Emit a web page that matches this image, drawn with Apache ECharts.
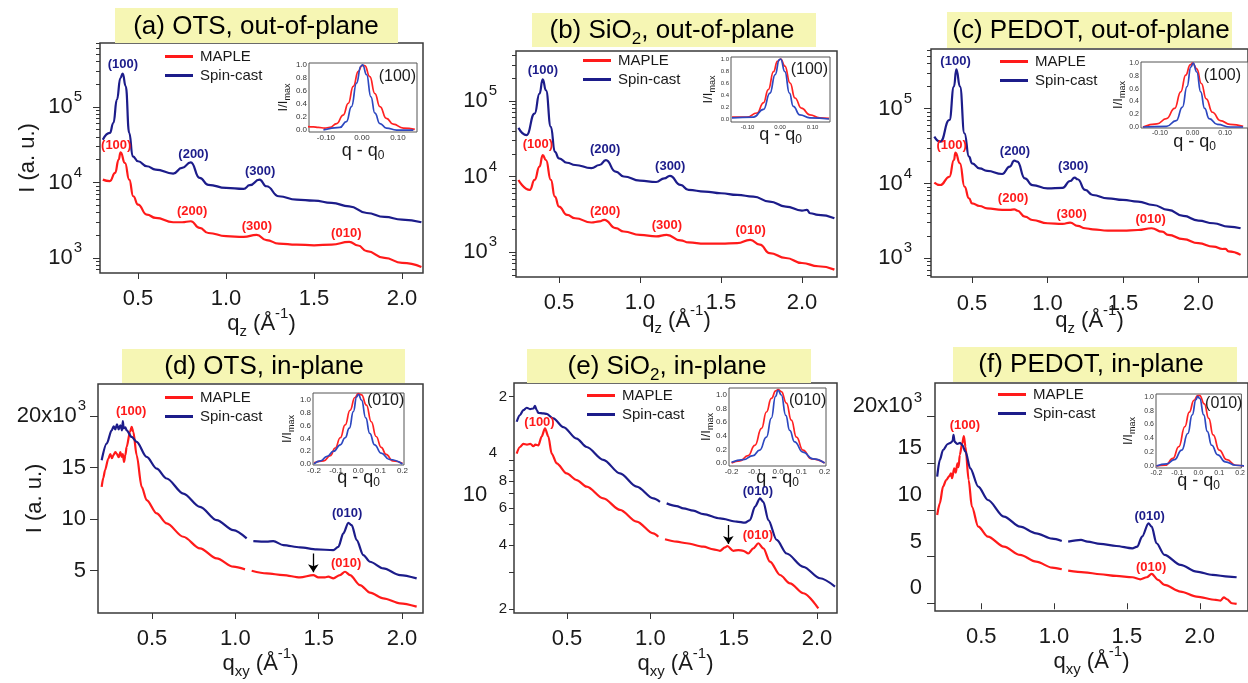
<!DOCTYPE html>
<html><head><meta charset="utf-8">
<script src="https://cdn.jsdelivr.net/npm/echarts@6/dist/echarts.min.js"></script>
<style>html,body{margin:0;padding:0;background:#fff}#c{width:1248px;height:683px}</style>
</head><body><div id="c"></div>
<script>
// ---------------- data (q in 1/Å, intensity in a.u.) ----------------
const aMaple = [[0.30,10900],[0.34,10400],[0.37,13400],[0.39,20100],[0.401,25100],[0.426,18100],[0.45,10900],[0.473,6560],[0.50,5090],[0.55,3750],[0.60,3390],[0.70,2970],[0.75,2970],[0.80,3060],[0.85,2500],[0.90,2140],[1.00,1940],[1.10,1900],[1.174,2020],[1.23,1720],[1.30,1550],[1.40,1500],[1.50,1470],[1.60,1500],[1.70,1630],[1.75,1460],[1.80,1230],[1.90,1000],[2.00,860],[2.11,760]];
const aSpin = [[0.30,36900],[0.34,45300],[0.36,61400],[0.38,125000],[0.40,242000],[0.413,277000],[0.43,188000],[0.45,45300],[0.47,22200],[0.50,19100],[0.55,16400],[0.60,14800],[0.70,13100],[0.75,15600],[0.80,18500],[0.85,11500],[0.90,9310],[1.00,8450],[1.10,8200],[1.135,9200],[1.19,10900],[1.23,8900],[1.30,6560],[1.40,5930],[1.50,5750],[1.60,5350],[1.70,4830],[1.80,3940],[1.90,3490],[2.00,3220],[2.11,2970]];
const bMaple = [[0.25,9000],[0.32,6640],[0.35,9000],[0.38,13500],[0.40,19200],[0.42,16500],[0.45,9000],[0.475,5420],[0.50,4000],[0.55,3100],[0.60,2800],[0.70,2460],[0.75,2540],[0.78,2670],[0.85,2070],[0.90,1870],[1.00,1690],[1.10,1610],[1.165,1690],[1.25,1430],[1.30,1340],[1.40,1290],[1.50,1290],[1.60,1310],[1.68,1450],[1.74,1250],[1.80,970],[1.90,834],[2.00,716],[2.10,648],[2.20,585]];
const bSpin = [[0.25,44000],[0.30,35300],[0.35,68100],[0.38,125000],[0.40,193000],[0.42,138000],[0.45,45400],[0.475,21200],[0.50,17400],[0.55,15200],[0.60,14200],[0.70,12900],[0.75,14200],[0.79,16500],[0.85,11600],[0.90,10000],[1.00,8820],[1.10,8460],[1.15,9460],[1.185,10200],[1.25,7730],[1.30,6640],[1.40,6310],[1.50,6000],[1.60,5700],[1.70,5420],[1.80,4660],[1.90,4000],[2.00,3540],[2.03,3610],[2.05,3260],[2.10,3100],[2.20,2800]];
const cMaple = [[0.25,10300],[0.29,9550],[0.35,12300],[0.38,20600],[0.39,25800],[0.42,18600],[0.45,9080],[0.48,6330],[0.50,5430],[0.55,5000],[0.60,4650],[0.70,4430],[0.75,4430],[0.78,4520],[0.80,4340],[0.85,3610],[0.90,3250],[1.00,2940],[1.10,2880],[1.15,3000],[1.20,2710],[1.25,2520],[1.30,2440],[1.40,2340],[1.50,2340],[1.60,2390],[1.69,2520],[1.76,2270],[1.80,2050],[1.90,1800],[2.00,1590],[2.10,1430],[2.16,1330],[2.18,1335],[2.20,1240],[2.28,1110]];
const cSpin = [[0.25,42300],[0.29,36200],[0.35,70600],[0.38,197000],[0.396,336000],[0.42,197000],[0.45,46800],[0.48,22800],[0.50,18600],[0.55,15900],[0.60,14700],[0.70,13400],[0.75,16800],[0.78,20200],[0.80,19600],[0.85,11700],[0.90,9500],[1.00,8580],[1.10,8760],[1.15,10800],[1.18,12000],[1.20,11400],[1.25,8190],[1.30,7020],[1.40,6330],[1.50,6020],[1.60,5720],[1.70,5160],[1.80,4430],[1.90,3680],[2.00,3190],[2.10,2940],[2.20,2650],[2.28,2520]];
const dMaple = [[0.198,13130],[0.208,14000],[0.218,14740],[0.238,15870],[0.25,16300],[0.26,15900],[0.268,16190],[0.28,16500],[0.288,16350],[0.30,16000],[0.31,16500],[0.318,16030],[0.325,16300],[0.332,15550],[0.34,16200],[0.348,17000],[0.368,18450],[0.378,18940],[0.388,18450],[0.408,16190],[0.438,13130],[0.468,11840],[0.528,10550],[0.588,9580],[0.688,8290],[0.788,7160],[0.888,6190],[0.988,5390],[1.058,5130],[1.078,null],[1.098,5000],[1.188,4740],[1.288,4580],[1.388,4350],[1.468,4580],[1.498,4350],[1.538,4350],[1.558,4420],[1.588,4260],[1.628,4580],[1.658,4900],[1.688,4580],[1.748,3610],[1.808,2870],[1.888,2320],[1.988,1840],[2.088,1520]];
const dSpin = [[0.198,15710],[0.228,17320],[0.258,18610],[0.27,19000],[0.28,18700],[0.29,19200],[0.30,18700],[0.31,19100],[0.32,18600],[0.325,19500],[0.33,18800],[0.34,18900],[0.348,18610],[0.378,17970],[0.408,17480],[0.468,16030],[0.528,14900],[0.588,13940],[0.688,12480],[0.788,11190],[0.888,9900],[0.988,8940],[1.068,8130],[1.088,null],[1.108,7870],[1.188,7810],[1.228,7870],[1.288,7480],[1.388,7260],[1.488,7060],[1.588,7000],[1.618,7320],[1.648,8610],[1.678,9650],[1.698,9420],[1.728,7970],[1.768,6520],[1.808,5870],[1.888,5230],[1.988,4580],[2.088,4260]];
const eMaple = [[0.198,10800],[0.218,11600],[0.238,12000],[0.26,11900],[0.28,12000],[0.298,11700],[0.31,11900],[0.328,11800],[0.348,13000],[0.368,14200],[0.388,13000],[0.408,10800],[0.438,9720],[0.498,8710],[0.558,8110],[0.618,7550],[0.718,6650],[0.818,5870],[0.918,5170],[1.018,4550],[1.048,4390],[1.068,null],[1.088,4270],[1.158,4160],[1.218,4090],[1.318,3940],[1.378,3830],[1.418,3770],[1.448,3910],[1.462,3970],[1.498,3770],[1.528,3800],[1.558,3770],[1.588,3660],[1.618,3870],[1.648,4090],[1.678,3870],[1.718,3350],[1.778,2900],[1.838,2650],[1.918,2380],[2.008,2020]];
const eSpin = [[0.198,15250],[0.218,16400],[0.238,17300],[0.258,17750],[0.278,17500],[0.298,17600],[0.308,18100],[0.318,17300],[0.328,16800],[0.358,16700],[0.378,16600],[0.418,15800],[0.478,14400],[0.558,12700],[0.618,11600],[0.718,10100],[0.818,8710],[0.918,7550],[1.018,6650],[1.058,6410],[1.078,null],[1.098,6300],[1.158,6120],[1.198,5970],[1.258,5820],[1.318,5610],[1.418,5350],[1.518,5170],[1.568,5110],[1.598,5260],[1.628,6080],[1.658,6650],[1.678,6410],[1.708,5260],[1.758,4240],[1.818,3660],[1.918,3170],[2.018,2800],[2.108,2560]];
const fMaple = [[0.198,9460],[0.216,10710],[0.238,12500],[0.26,13210],[0.28,13600],[0.293,13930],[0.30,13400],[0.315,14460],[0.325,14000],[0.337,15000],[0.345,14600],[0.353,15890],[0.37,17140],[0.381,17930],[0.392,16790],[0.414,13210],[0.436,10360],[0.48,8210],[0.546,7140],[0.656,6070],[0.767,5180],[0.877,4460],[0.987,3820],[1.053,3640],[1.075,null],[1.097,3500],[1.207,3320],[1.317,3110],[1.427,2930],[1.537,2790],[1.592,2570],[1.636,2790],[1.67,3140],[1.714,2500],[1.758,1960],[1.868,1250],[1.978,710],[2.11,360],[2.143,290],[2.165,640],[2.187,430],[2.22,0],[2.253,-70]];
const fSpin = [[0.198,13570],[0.216,15360],[0.238,16430],[0.271,17070],[0.29,17200],[0.304,17390],[0.31,18040],[0.318,17300],[0.337,17070],[0.355,17200],[0.37,16960],[0.392,16250],[0.425,14460],[0.48,12500],[0.546,11070],[0.656,9290],[0.767,8210],[0.877,7500],[0.987,6930],[1.053,6680],[1.075,null],[1.097,6610],[1.185,6790],[1.229,6610],[1.317,6360],[1.427,6140],[1.537,5890],[1.571,6070],[1.604,7140],[1.648,8570],[1.67,8210],[1.703,6430],[1.758,5180],[1.868,4110],[1.978,3390],[2.088,3040],[2.198,2860],[2.253,2790]];

// insets: q - q0 vs I/Imax
const aInMaple = [[-0.158,0.06],[-0.135,0.05],[-0.121,0.04],[-0.103,0.03],[-0.089,0.04],[-0.07,0.10],[-0.052,0.23],[-0.038,0.41],[-0.024,0.67],[-0.01,0.90],[0.0,0.99],[0.008,0.99],[0.022,0.82],[0.036,0.56],[0.05,0.36],[0.068,0.18],[0.087,0.09],[0.115,0.03],[0.147,0.01]];
const aInSpin = [[-0.107,0.0],[-0.061,0.04],[-0.043,0.13],[-0.029,0.36],[-0.015,0.72],[-0.003,0.98],[0.002,1.0],[0.013,0.85],[0.025,0.51],[0.036,0.26],[0.05,0.10],[0.068,0.03],[0.096,0.0],[0.143,0.0]];
const bInMaple = [[-0.148,0.03],[-0.102,0.03],[-0.071,0.10],[-0.051,0.27],[-0.036,0.49],[-0.02,0.79],[-0.008,0.96],[0.002,1.0],[0.015,0.88],[0.031,0.60],[0.046,0.35],[0.066,0.18],[0.092,0.07],[0.122,0.02],[0.151,0.01]];
const bInSpin = [[-0.148,0.02],[-0.082,0.03],[-0.051,0.16],[-0.031,0.43],[-0.015,0.74],[-0.002,0.99],[0.002,1.0],[0.015,0.79],[0.029,0.43],[0.041,0.21],[0.061,0.07],[0.092,0.02],[0.151,0.0]];
const cInMaple = [[-0.152,0.0],[-0.109,0.05],[-0.08,0.13],[-0.055,0.29],[-0.036,0.55],[-0.021,0.81],[-0.007,0.97],[0.0,1.0],[0.013,0.91],[0.027,0.68],[0.042,0.44],[0.061,0.23],[0.085,0.10],[0.115,0.04],[0.155,0.01]];
const cInSpin = [[-0.152,0.0],[-0.08,0.01],[-0.05,0.10],[-0.031,0.31],[-0.017,0.63],[-0.005,0.94],[0.002,1.0],[0.013,0.86],[0.025,0.55],[0.037,0.29],[0.051,0.13],[0.076,0.04],[0.115,0.0],[0.155,0.0]];
const dInMaple = [[-0.2,0.02],[-0.156,0.05],[-0.126,0.13],[-0.104,0.25],[-0.081,0.41],[-0.059,0.61],[-0.037,0.84],[-0.015,1.04],[0.0,1.10],[0.015,1.08],[0.037,0.92],[0.059,0.66],[0.081,0.43],[0.104,0.26],[0.126,0.15],[0.156,0.05],[0.2,0.01]];
const dInSpin = [[-0.2,0.0],[-0.17,0.05],[-0.141,0.12],[-0.111,0.20],[-0.081,0.30],[-0.059,0.41],[-0.04,0.56],[-0.022,0.82],[-0.007,1.05],[0.001,1.09],[0.015,1.0],[0.034,0.72],[0.052,0.48],[0.074,0.30],[0.104,0.17],[0.141,0.07],[0.2,0.0]];
const eInMaple = [[-0.2,0.0],[-0.164,0.03],[-0.129,0.11],[-0.1,0.26],[-0.071,0.51],[-0.05,0.75],[-0.029,0.95],[-0.01,1.06],[0.0,1.08],[0.014,1.05],[0.036,0.88],[0.057,0.63],[0.079,0.38],[0.107,0.19],[0.143,0.06],[0.2,0.0]];
const eInSpin = [[-0.2,0.01],[-0.15,0.05],[-0.107,0.11],[-0.079,0.19],[-0.05,0.38],[-0.029,0.66],[-0.011,0.98],[0.0,1.07],[0.014,1.0],[0.033,0.70],[0.05,0.48],[0.071,0.31],[0.107,0.16],[0.15,0.06],[0.2,0.0]];
const fInMaple = [[-0.2,0.0],[-0.157,0.01],[-0.121,0.11],[-0.093,0.28],[-0.064,0.57],[-0.043,0.78],[-0.021,0.95],[-0.003,1.02],[0.007,1.02],[0.029,0.90],[0.05,0.69],[0.071,0.45],[0.1,0.23],[0.136,0.09],[0.179,0.01],[0.221,0.0]];
const fInSpin = [[-0.2,0.0],[-0.15,0.03],[-0.114,0.09],[-0.079,0.23],[-0.05,0.47],[-0.029,0.74],[-0.011,0.96],[-0.003,1.01],[0.007,0.98],[0.026,0.74],[0.043,0.50],[0.064,0.30],[0.093,0.16],[0.129,0.06],[0.179,0.01],[0.221,0.0]];

// peak annotations [q, I, text, series]
const aPeaks = [[0.417,364000,'(100)','s'],[0.379,30800,'(100)','m'],[0.818,23400,'(200)','s'],[1.197,13600,'(300)','s'],[0.810,4030,'(200)','m'],[1.178,2550,'(300)','m'],[1.686,2080,'(010)','m']];
const bPeaks = [[0.404,253000,'(100)','s'],[0.373,26000,'(100)','m'],[0.788,22300,'(200)','s'],[1.190,13500,'(300)','s'],[0.788,3440,'(200)','m'],[1.169,2220,'(300)','m'],[1.686,1930,'(010)','m']];
const cPeaks = [[0.394,416000,'(100)','s'],[0.368,31700,'(100)','m'],[0.788,26600,'(200)','s'],[1.174,16800,'(300)','s'],[0.775,6140,'(200)','m'],[1.163,3790,'(300)','m'],[1.687,3250,'(010)','m']];
const dPeaks = [[0.378,20390,'(100)','m'],[1.674,10480,'(010)','s'],[1.668,5650,'(010)','m']];
const ePeaks = [[0.338,15000,'(100)','m'],[1.648,7100,'(010)','s'],[1.648,4440,'(010)','m']];
const fPeaks = [[0.392,19040,'(100)','m'],[1.659,9290,'(010)','s'],[1.670,3750,'(010)','m']];
const dArrow = [[1.468,6680],[1.468,4840]];
const eArrow = [[1.468,4990],[1.468,4060]];

// ticks
const xTicks = [0.5, 1.0, 1.5, 2.0];
const logMajor = [1000, 10000, 100000];
const dTicks = [5000, 10000, 15000, 20000];
const fTicks = [0, 5000, 10000, 15000, 20000];
const eTickVals = [2000,3000,4000,5000,6000,7000,8000,9000,10000,20000];
const eLabelVals = [2000,4000,6000,8000,20000];
const insetY = [0, 0.2, 0.4, 0.6, 0.8, 1.0];
const insetX3 = [-0.1, 0, 0.1];
const insetX5 = [-0.2, -0.1, 0, 0.1, 0.2];

// ---------------- build ----------------
const FONT = '"Liberation Sans", Arial, sans-serif';
const RED = '#ff1a1a', BLUE = '#1c1c8a', IRED = '#ff2222', IBLUE = '#2d48c0', INK = '#1a1a1a';
const T = (size, extra) => Object.assign({fontSize:size, lineHeight:size, fontFamily:FONT, color:INK}, extra || {});
const RICH = {
  b: T(22), s: T(15, {padding:[0,0,20,1]}), sub: T(15, {padding:[16,0,0,0]}), sup: T(15, {padding:[0,0,20,0]}),
  bp: T(22, {padding:[0,0,8,0]}), s5: T(15, {padding:[0,0,16,1]}),
  it: T(18), its: T(12, {padding:[10,0,0,0]}), iy: T(13), iys: T(9, {padding:[8,0,0,0]}),
  tt: T(26), tts: T(17, {padding:[16,0,0,0]})
};
const grid = [], xAxis = [], yAxis = [], series = [], legend = [], graphic = [];

function logMinors(lo, hi) {
  const out = [];
  for (let e = 2; e <= 6; e++) for (let m = 2; m <= 9; m++) { const v = m * Math.pow(10, e); if (v > lo && v < hi) out.push(v); }
  return out;
}
function lineS(name, data, xi, yi, color, w, smooth) {
  return {type:'line', name, data, xAxisIndex:xi, yAxisIndex:yi, symbol:'none', smooth, smoothMonotone:'x',
    lineStyle:{color, width:w}, itemStyle:{color}, silent:true, z:3};
}
function labelS(list, xi, yi, size, bold, colorFn) {
  return {type:'scatter', xAxisIndex:xi, yAxisIndex:yi, symbolSize:1, itemStyle:{color:'rgba(0,0,0,0)'}, silent:true, z:6,
    label:{show:true, position:[0,0], align:'center', verticalAlign:'middle', fontSize:size, fontWeight:bold ? 'bold' : 'normal',
      fontFamily:FONT, textBorderWidth:0, opacity:1},
    data:list.map(p => ({value:[p[0], p[1]], label:{formatter:p[2], color:colorFn(p[3])}}))};
}
const tickStyle = {color:'#333', width:1};

function mainPanel(p) {
  const gi = grid.length;
  grid.push({left:p.g[0], top:p.g[1], width:p.g[2], height:p.g[3], show:true, borderColor:'#3a3a3a', borderWidth:1.5, backgroundColor:'rgba(0,0,0,0)'});
  const xi = xAxis.length;
  xAxis.push({type:'value', gridIndex:gi, position:'bottom', min:p.x[0], max:p.x[1], splitLine:{show:false}, axisLine:{show:false},
    axisTick:{show:true, customValues:xTicks, length:6, lineStyle:tickStyle},
    axisLabel:{customValues:xTicks, formatter:v => v.toFixed(1), fontSize:22, fontFamily:FONT, color:INK, margin:p.xm, showMinLabel:true, showMaxLabel:true},
    name:p.xname, nameLocation:'middle', nameGap:p.xgap, nameMoveOverlap:false, nameTextStyle:{rich:RICH}});
  const yi = yAxis.length;
  yAxis.push(Object.assign({gridIndex:gi, position:'left', offset:0, min:p.y[0], max:p.y[1], splitLine:{show:false}, axisLine:{show:false}, nameMoveOverlap:false}, p.yAxis));
  if (p.minor) yAxis.push({type:'log', gridIndex:gi, position:'left', offset:0, min:p.y[0], max:p.y[1], axisLine:{show:false}, splitLine:{show:false},
    axisLabel:{show:false}, axisTick:{customValues:p.minor, length:4, lineStyle:tickStyle}});
  series.push(lineS('MAPLE', p.maple, xi, yi, RED, 2.2, p.smooth));
  series.push(lineS('Spin-cast', p.spin, xi, yi, BLUE, 2.2, p.smooth));
  series.push(labelS(p.peaks, xi, yi, 13, true, k => k === 's' ? BLUE : RED));
  if (p.arrow) series.push({type:'lines', coordinateSystem:'cartesian2d', xAxisIndex:xi, yAxisIndex:yi, silent:true, z:6,
    symbol:['none','arrow'], symbolSize:8, lineStyle:{color:'#000', width:1.3, opacity:1}, data:[{coords:p.arrow}]});
  legend.push({left:p.lg[0], top:p.lg[1], orient:'vertical', data:['MAPLE','Spin-cast'], icon:'rect', itemWidth:28, itemHeight:3,
    itemGap:4, padding:0, selectedMode:false, textStyle:{fontSize:15, fontFamily:FONT, color:INK, padding:[0,0,0,2]}});
  graphic.push({type:'rect', shape:{x:p.title.r[0], y:p.title.r[1], width:p.title.r[2], height:p.title.r[3]}, style:{fill:'#f6f6b4'}, z:1, silent:true});
  graphic.push({type:'text', x:p.title.c[0], y:p.title.c[1], z:2, silent:true,
    style:{text:p.title.t, rich:RICH, align:'center', verticalAlign:'middle', fontFamily:FONT}});
}

function inset(p) {
  const gi = grid.length;
  grid.push({left:p.g[0], top:p.g[1], width:p.g[2], height:p.g[3], show:true, borderColor:'#555', borderWidth:1, backgroundColor:'#fff', z:1});
  const xi = xAxis.length, yi = yAxis.length;
  xAxis.push({type:'value', gridIndex:gi, position:'bottom', min:p.x[0], max:p.x[1], splitLine:{show:false}, axisLine:{show:false},
    axisTick:{show:true, inside:true, length:2, customValues:p.xt, lineStyle:{color:'#555'}},
    axisLabel:{customValues:p.xt, formatter:v => v.toFixed(p.xd), fontSize:p.fs, fontFamily:FONT, color:'#333', margin:2, showMinLabel:true, showMaxLabel:true},
    name:'{it|q - q}{its|0}', nameLocation:'middle', nameGap:p.xng, nameMoveOverlap:false, nameTextStyle:{rich:RICH}});
  yAxis.push({type:'value', gridIndex:gi, position:'left', min:p.y[0], max:p.y[1], splitLine:{show:false}, axisLine:{show:false},
    axisTick:{show:true, inside:true, length:2, customValues:insetY, lineStyle:{color:'#555'}},
    axisLabel:{customValues:insetY, formatter:v => v.toFixed(1), fontSize:p.fs, fontFamily:FONT, color:'#333', margin:2, showMinLabel:true, showMaxLabel:true},
    name:'{iy|I/I}{iys|max}', nameLocation:'middle', nameGap:p.yng, nameRotate:90, nameMoveOverlap:false, nameTextStyle:{rich:RICH}});
  series.push(lineS('MAPLE', p.maple, xi, yi, IRED, 1.7, 0.5));
  series.push(lineS('Spin-cast', p.spin, xi, yi, IBLUE, 1.7, 0.5));
  series.push(labelS([[p.lab[0], p.lab[1], p.lab[2], 'k']], xi, yi, 16, false, () => INK));
}

const logY = (margin) => ({type:'log', logBase:10, axisTick:{customValues:logMajor, length:7, lineStyle:tickStyle},
  axisLabel:{customValues:logMajor, formatter:v => '{b|10}{s|' + Math.round(Math.log10(v)) + '}', rich:RICH, margin, showMinLabel:true, showMaxLabel:true}});
const qz = '{b|q}{sub|z}{b| (Å}{sup|-1}{b|)}';
const qxy = '{b|q}{sub|xy}{b| (Å}{sup|-1}{b|)}';

mainPanel({g:[100,43,323,230], x:[0.284,2.119], y:[631,705000], xm:15, xname:qz, xgap:40, smooth:0.5,
  yAxis:Object.assign(logY(18), {name:'I (a. u.)', nameLocation:'middle', nameGap:61, nameTextStyle:{fontSize:22, fontFamily:FONT, color:INK}}),
  minor:logMinors(631,705000), maple:aMaple, spin:aSpin, peaks:aPeaks, lg:[165,49],
  title:{r:[115,8,283,35], c:[256,27], t:'{tt|(a) OTS, out-of-plane}'}});
mainPanel({g:[516,51,321,226], x:[0.235,2.216], y:[467,459000], xm:15, xname:qz, xgap:33, smooth:0.5,
  yAxis:logY(19), minor:logMinors(467,459000), maple:bMaple, spin:bSpin, peaks:bPeaks, lg:[583,53],
  title:{r:[532,13,284,34], c:[672,31], t:'{tt|(b) SiO}{tts|2}{tt|, out-of-plane}'}});
mainPanel({g:[931,49,325,228], x:[0.228,2.329], y:[562,628000], xm:16, xname:qz, xgap:33, smooth:0.5,
  yAxis:logY(19), minor:logMinors(562,628000), maple:cMaple, spin:cSpin, peaks:cPeaks, lg:[1000,54],
  title:{r:[947,12,285,36], c:[1091,31], t:'{tt|(c) PEDOT, out-of-plane}'}});
mainPanel({g:[98,384,325,229], x:[0.176,2.126], y:[900,23100], xm:15, xname:qxy, xgap:40, smooth:0.3,
  yAxis:{type:'value', axisTick:{customValues:dTicks, length:8, lineStyle:tickStyle},
    axisLabel:{customValues:dTicks, rich:RICH, margin:12, showMinLabel:true, showMaxLabel:true, formatter:v => v === 20000 ? '{b|20x10}{s|3}' : '{b|' + (v / 1000) + '}'},
    name:'I (a. u.)', nameLocation:'middle', nameGap:52, nameTextStyle:{fontSize:22, fontFamily:FONT, color:INK}},
  maple:dMaple, spin:dSpin, peaks:dPeaks, arrow:dArrow, lg:[165,390],
  title:{r:[122,349,283,34], c:[264,367], t:'{tt|(d) OTS, in-plane}'}});
mainPanel({g:[514,383,323,230], x:[0.182,2.120], y:[1922,23200], xm:15, xname:qxy, xgap:40, smooth:0.3,
  yAxis:{type:'log', logBase:10, axisTick:{customValues:eTickVals, length:5, lineStyle:tickStyle},
    axisLabel:{customValues:eLabelVals, showMinLabel:true, showMaxLabel:true, formatter:v => String(Math.round(v >= 10000 ? v / 10000 : v / 1000)), fontSize:15, fontFamily:FONT, color:INK, margin:7}},
  maple:eMaple, spin:eSpin, peaks:ePeaks, arrow:eArrow, lg:[587,388],
  title:{r:[527,349,284,34], c:[667,367], t:'{tt|(e) SiO}{tts|2}{tt|, in-plane}'}});
mainPanel({g:[935,383,325,228], x:[0.183,2.331], y:[-830,23610], xm:15, xname:qxy, xgap:40, smooth:0.3,
  yAxis:{type:'value', axisTick:{customValues:fTicks, length:8, lineStyle:tickStyle},
    axisLabel:{customValues:fTicks, rich:RICH, margin:13, interval:0, verticalAlign:'bottom', showMinLabel:true, showMaxLabel:true, hideOverlap:false,
      formatter:v => v === 20000 ? '{b|20x10}{s5|3}' : '{bp|' + (v / 1000) + '}'}},
  maple:fMaple, spin:fSpin, peaks:fPeaks, lg:[998,387],
  title:{r:[953,347,284,35], c:[1091,365], t:'{tt|(f) PEDOT, in-plane}'}});

// broken "10^4" label of panel (e)
graphic.push({type:'text', x:475, y:495, z:5, silent:true, style:{text:'10', fontSize:22, fontFamily:FONT, fill:INK, align:'center', verticalAlign:'middle'}});
graphic.push({type:'text', x:493, y:453, z:5, silent:true, style:{text:'4', fontSize:15, fontFamily:FONT, fill:INK, align:'center', verticalAlign:'middle'}});

inset({g:[309,63,108,69], x:[-0.147,0.153], y:[-0.03,1.03], xt:insetX3, xd:2, fs:8, xng:10, yng:19, maple:aInMaple, spin:aInSpin, lab:[0.10,0.82,'(100)']});
inset({g:[731,57,99,65], x:[-0.151,0.154], y:[-0.05,1.033], xt:insetX3, xd:2, fs:6, xng:4, yng:16, maple:bInMaple, spin:bInSpin, lab:[0.092,0.82,'(100)']});
inset({g:[1141,62,110,66], x:[-0.158,0.170], y:[-0.016,1.016], xt:insetX3, xd:2, fs:7, xng:5, yng:16, maple:cInMaple, spin:cInSpin, lab:[0.093,0.80,'(100)']});
inset({g:[313,393,91,72], x:[-0.2045,0.207], y:[-0.016,1.11], xt:insetX5, xd:1, fs:8, xng:4, yng:19, maple:dInMaple, spin:dInSpin, lab:[0.126,0.98,'(010)']});
inset({g:[729,388,97,78], x:[-0.211,0.206], y:[-0.044,1.103], xt:insetX5, xd:1, fs:8, xng:3, yng:16, maple:eInMaple, spin:eInSpin, lab:[0.129,0.91,'(010)']});
inset({g:[1156,394,95,74], x:[-0.202,0.206], y:[-0.03,1.043], xt:insetX5, xd:1, fs:7, xng:4, yng:21, maple:fInMaple, spin:fInSpin, lab:[0.124,0.90,'(010)']});

const chart = echarts.init(document.getElementById('c'), null, {renderer:'canvas'});
chart.setOption({animation:false, backgroundColor:'#fff', grid, xAxis, yAxis, series, legend, graphic});
</script></body></html>
